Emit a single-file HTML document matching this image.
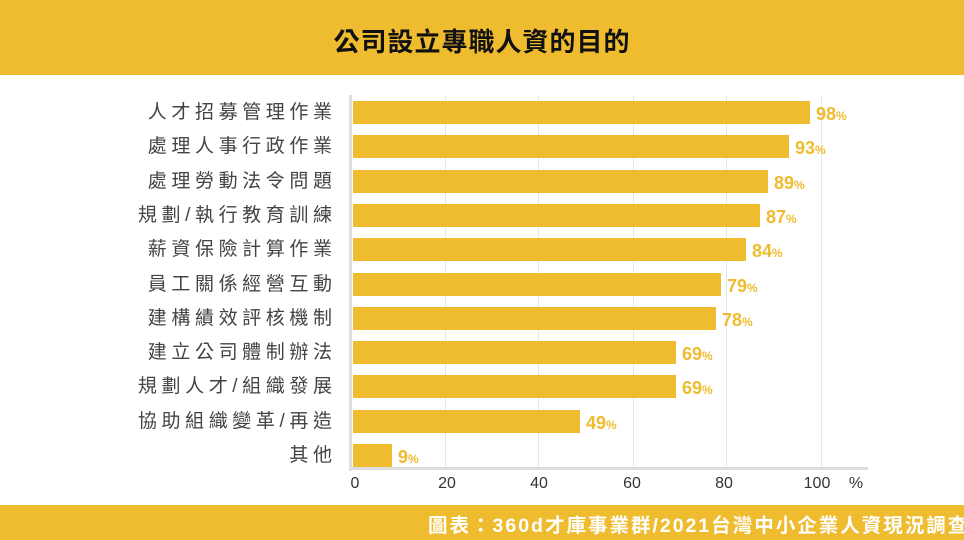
<!DOCTYPE html>
<html><head><meta charset="utf-8"><style>
body{margin:0;width:964px;height:540px;overflow:hidden;background:#fff;position:relative;font-family:"Liberation Sans","Noto Sans CJK TC",sans-serif}
.top{position:absolute;left:0;top:0;width:964px;height:75px;background:#EFBC2F}
.title{position:absolute;left:0;top:22px;width:964px;text-align:center;font-size:26px;font-weight:bold;color:#111;letter-spacing:1px}
.bot{position:absolute;left:0;top:505px;width:964px;height:35px;background:#EFBC2F}
.foot{position:absolute;left:428px;top:509px;white-space:nowrap;font-size:19.5px;font-weight:bold;color:#fff;letter-spacing:2px}
.lab{position:absolute;right:632px;font-size:19px;color:#444;letter-spacing:4.6px;white-space:nowrap;line-height:24px;margin-right:-4.6px}
.bar{position:absolute;left:353px;height:23px;background:#EFBC2F}
.val{position:absolute;font-size:18px;font-weight:bold;color:#EFBC2F;line-height:24px}
.val small{font-size:12px}
.grid{position:absolute;top:95px;height:373px;width:1px;background:#e6e6e6}
.tick{position:absolute;top:475px;font-size:16px;color:#333;transform:translateX(-50%)}
</style></head><body>
<div class="top"></div><div class="title">公司設立專職人資的目的</div>
<div class="grid" style="left:445px"></div><div class="grid" style="left:538px"></div><div class="grid" style="left:633px"></div><div class="grid" style="left:726px"></div><div class="grid" style="left:821px"></div>
<div style="position:absolute;left:349px;top:95px;width:3px;height:376px;background:#ddd"></div>
<div style="position:absolute;left:349px;top:467px;width:519px;height:3px;background:#ddd"></div>
<div id="rows"></div>
<div class="tick" style="left:355px">0</div><div class="tick" style="left:447px">20</div><div class="tick" style="left:539px">40</div><div class="tick" style="left:632px">60</div><div class="tick" style="left:724px">80</div><div class="tick" style="left:817px">100</div><div class="tick" style="left:856px">%</div>
<div class="bot"></div><div class="foot">圖表：360d才庫事業群/2021台灣中小企業人資現況調查</div>
<script>
var d=[["人才招募管理作業",98,810],["處理人事行政作業",93,789],["處理勞動法令問題",89,768],["規劃/執行教育訓練",87,760],["薪資保險計算作業",84,746],["員工關係經營互動",79,721],["建構績效評核機制",78,716],["建立公司體制辦法",69,676],["規劃人才/組織發展",69,676],["協助組織變革/再造",49,580],["其他",9,392]];
var h="";d.forEach(function(r,i){var y=101+i*34.3;
h+='<div class="lab" style="top:'+(y)+'px">'+r[0]+'</div><div class="bar" style="top:'+y+'px;width:'+(r[2]-353)+'px"></div><div class="val" style="left:'+(r[2]+6)+'px;top:'+(y+1)+'px">'+r[1]+'<small>%</small></div>';});
document.getElementById("rows").innerHTML=h;
</script>
</body></html>
